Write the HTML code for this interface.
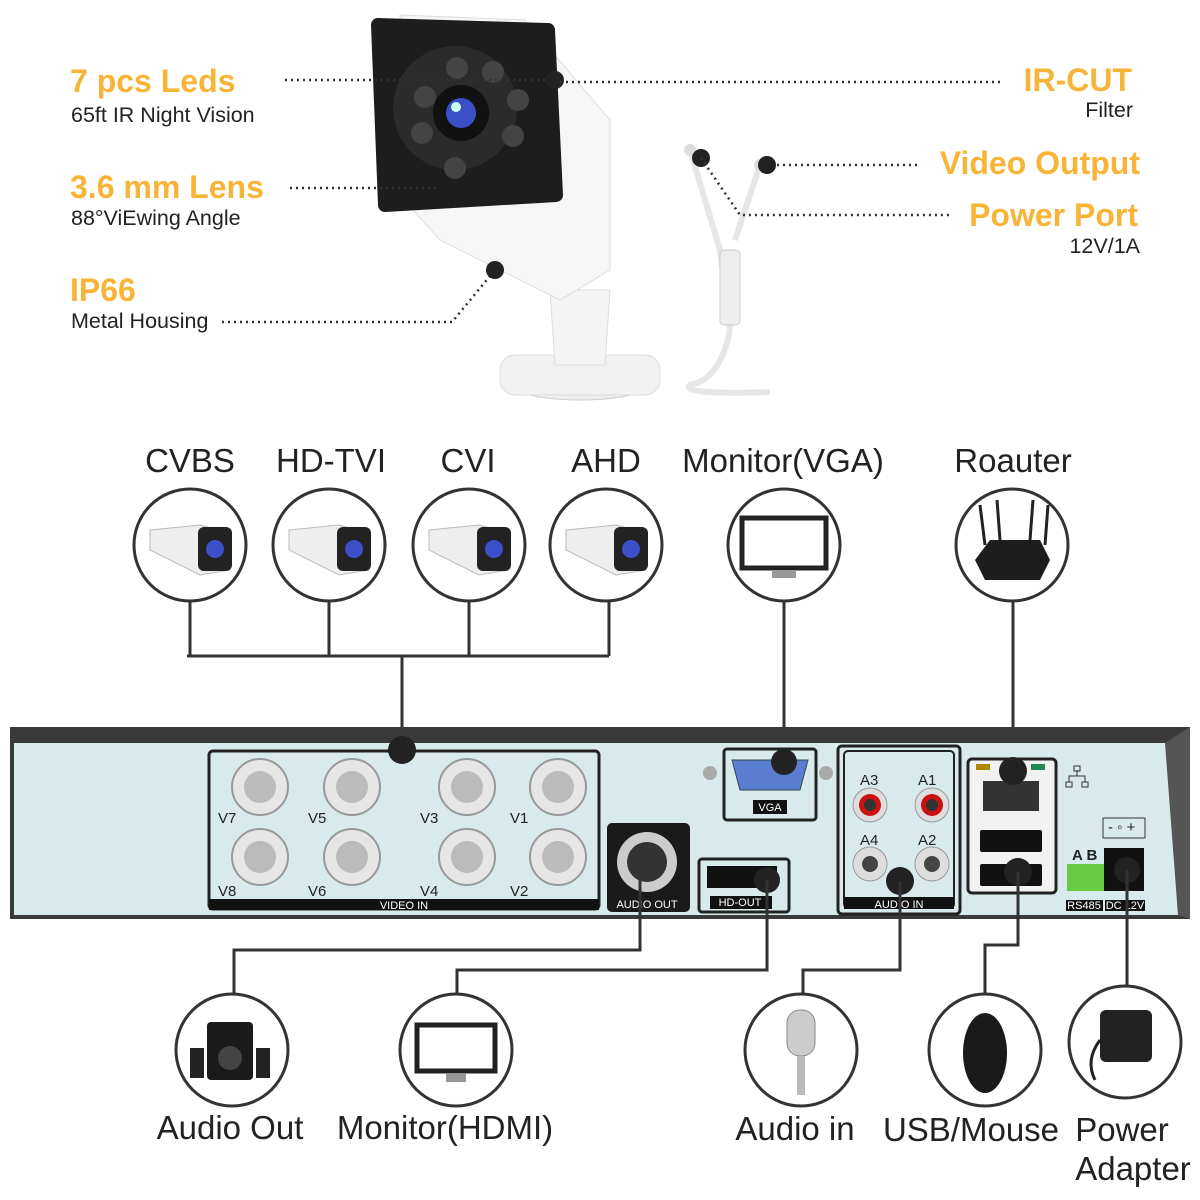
<!DOCTYPE html>
<html><head><meta charset="utf-8"><style>
html,body{margin:0;padding:0;background:#fff}
svg{display:block}
.o{font-family:"Liberation Sans",sans-serif;font-weight:bold;fill:#f7b436;font-size:32px}
.b{font-family:"Liberation Sans",sans-serif;fill:#222;font-size:21.5px}
.L{font-family:"Liberation Sans",sans-serif;fill:#222;font-size:33px}
.s{font-family:"Liberation Sans",sans-serif;fill:#222;font-size:15px}
.w{font-family:"Liberation Sans",sans-serif;fill:#fff;font-size:11px}
.dot{stroke:#333;stroke-width:2.5;stroke-dasharray:2 4;fill:none}
.ln{stroke:#333;stroke-width:3;fill:none}
.c{fill:#fff;stroke:#333;stroke-width:3}
</style></head><body>
<svg width="1200" height="1200" viewBox="0 0 1200 1200">
<g>
<ellipse cx="580" cy="378" rx="80" ry="22" fill="#eee" stroke="#ccc"/>
<rect x="500" y="355" width="160" height="40" rx="15" fill="#f1f1f1" stroke="#ddd"/>
<path d="M550 290 L610 290 L605 365 L555 365Z" fill="#f4f4f4" stroke="#ddd"/>
<path d="M400 15 L525 20 L610 120 L610 270 L560 300 L440 240 L395 190Z" fill="#f6f6f6" stroke="#ddd"/>
<path d="M378 25 L548 30 L556 195 L385 205Z" fill="#1d1d1d" stroke="#1d1d1d" stroke-width="14" stroke-linejoin="round"/>
<circle cx="455" cy="108" r="62" fill="#2b2b2b"/>
<g fill="#444"><circle cx="457" cy="68" r="11"/><circle cx="493" cy="72" r="11"/><circle cx="518" cy="100" r="11"/><circle cx="513" cy="136" r="11"/><circle cx="425" cy="97" r="11"/><circle cx="422" cy="133" r="11"/><circle cx="455" cy="168" r="11"/></g>
<circle cx="461" cy="113" r="28" fill="#111"/><circle cx="461" cy="113" r="15" fill="#3b4fc8"/><circle cx="456" cy="107" r="5" fill="#cfe"/>
<path d="M690 150 L720 250 L730 330 M760 165 L735 240 M730 330 Q720 380 690 385 Q680 395 770 392" stroke="#e6e6e6" stroke-width="6" fill="none"/>
<rect x="720" y="250" width="20" height="75" rx="4" fill="#eee" stroke="#ccc"/>
<circle cx="690" cy="150" r="6" fill="#ddd"/><circle cx="760" cy="165" r="6" fill="#ddd"/>
</g>
<text class="o" x="70" y="92">7 pcs Leds</text><text class="b" x="71" y="122">65ft IR Night Vision</text>
<path class="dot" d="M285 80 H555"/><circle cx="555" cy="80" r="9" fill="#222"/>
<text class="o" x="70" y="198">3.6 mm Lens</text><text class="b" x="71" y="225">88°ViEwing Angle</text>
<path class="dot" d="M290 188 H440"/>
<text class="o" x="70" y="301">IP66</text><text class="b" x="71" y="328">Metal Housing</text>
<path class="dot" d="M222 322 H452 L495 270"/><circle cx="495" cy="270" r="9" fill="#222"/>
<text class="o" x="1132" y="91" text-anchor="end">IR-CUT</text><text class="b" x="1133" y="117" text-anchor="end">Filter</text>
<path class="dot" d="M560 82 H1003"/>
<text class="o" x="1140" y="174" text-anchor="end">Video Output</text>
<path class="dot" d="M765 165 H918"/><circle cx="767" cy="165" r="9" fill="#222"/><circle cx="701" cy="158" r="9" fill="#222"/>
<text class="o" x="1138" y="226" text-anchor="end">Power Port</text><text class="b" x="1140" y="253" text-anchor="end">12V/1A</text>
<path class="dot" d="M701 158 L740 215 H950"/>
<g class="L" text-anchor="middle">
<text x="190" y="472">CVBS</text><text x="331" y="472">HD-TVI</text><text x="468" y="472">CVI</text><text x="606" y="472">AHD</text><text x="783" y="472">Monitor(VGA)</text><text x="1013" y="472">Roauter</text>
</g>
<g>
<circle class="c" cx="190" cy="545" r="56"/><circle class="c" cx="329" cy="545" r="56"/><circle class="c" cx="469" cy="545" r="56"/><circle class="c" cx="606" cy="545" r="56"/><circle class="c" cx="784" cy="545" r="56"/><circle class="c" cx="1012" cy="545" r="56"/>
</g>
<g>
<g transform="translate(190,545)"><path d="M-40 -15 L10 -20 L40 -12 L40 25 L10 30 L-40 5Z" fill="#eee" stroke="#bbb"/><rect x="8" y="-18" width="34" height="44" rx="6" fill="#222"/><circle cx="25" cy="4" r="9" fill="#3b4fc8"/></g>
<g transform="translate(329,545)"><path d="M-40 -15 L10 -20 L40 -12 L40 25 L10 30 L-40 5Z" fill="#eee" stroke="#bbb"/><rect x="8" y="-18" width="34" height="44" rx="6" fill="#222"/><circle cx="25" cy="4" r="9" fill="#3b4fc8"/></g>
<g transform="translate(469,545)"><path d="M-40 -15 L10 -20 L40 -12 L40 25 L10 30 L-40 5Z" fill="#eee" stroke="#bbb"/><rect x="8" y="-18" width="34" height="44" rx="6" fill="#222"/><circle cx="25" cy="4" r="9" fill="#3b4fc8"/></g>
<g transform="translate(606,545)"><path d="M-40 -15 L10 -20 L40 -12 L40 25 L10 30 L-40 5Z" fill="#eee" stroke="#bbb"/><rect x="8" y="-18" width="34" height="44" rx="6" fill="#222"/><circle cx="25" cy="4" r="9" fill="#3b4fc8"/></g>
</g>
<rect x="742" y="518" width="84" height="50" fill="#fff" stroke="#222" stroke-width="5"/><rect x="772" y="570" width="24" height="8" fill="#999"/>
<path d="M985 545 L980 505 M1000 540 L997 500 M1030 540 L1033 500 M1045 545 L1048 505" stroke="#222" stroke-width="3"/>
<path d="M975 560 L990 540 L1040 540 L1050 560 L1040 580 L985 580Z" fill="#1d1d1d"/>
<path class="ln" d="M190 601 V656 M329 601 V656 M469 601 V656 M609 601 V656 M187 656 H609 M402 656 V750 M784 601 V762 M1013 601 V770"/>
<rect x="10" y="727" width="1180" height="192" fill="#3a3a3a"/>
<rect x="14" y="743" width="1164" height="172" fill="#d9eaec"/>
<path d="M1165 743 L1190 727 L1190 919 L1178 915Z" fill="#555"/>
<rect x="209" y="751" width="390" height="158" rx="4" fill="#d9eaec" stroke="#222" stroke-width="3"/>
<rect x="209" y="899" width="390" height="11" fill="#111"/><text class="w" x="404" y="909" text-anchor="middle">VIDEO IN</text>
<g fill="#e6e6e6" stroke="#999" stroke-width="2">
<circle cx="260" cy="787" r="28"/><circle cx="352" cy="787" r="28"/><circle cx="467" cy="787" r="28"/><circle cx="558" cy="787" r="28"/>
<circle cx="260" cy="857" r="28"/><circle cx="352" cy="857" r="28"/><circle cx="467" cy="857" r="28"/><circle cx="558" cy="857" r="28"/>
</g>
<g fill="#bbb"><circle cx="260" cy="787" r="16"/><circle cx="352" cy="787" r="16"/><circle cx="467" cy="787" r="16"/><circle cx="558" cy="787" r="16"/><circle cx="260" cy="857" r="16"/><circle cx="352" cy="857" r="16"/><circle cx="467" cy="857" r="16"/><circle cx="558" cy="857" r="16"/></g>
<g class="s"><text x="218" y="823">V7</text><text x="308" y="823">V5</text><text x="420" y="823">V3</text><text x="510" y="823">V1</text><text x="218" y="896">V8</text><text x="308" y="896">V6</text><text x="420" y="896">V4</text><text x="510" y="896">V2</text></g>
<circle cx="402" cy="750" r="14" fill="#222"/>
<rect x="607" y="823" width="83" height="89" rx="5" fill="#1a1a1a"/><circle cx="647" cy="862" r="30" fill="#ccc"/><circle cx="647" cy="862" r="20" fill="#333"/><text class="w" x="647" y="908" text-anchor="middle" font-size="9">AUDIO OUT</text>
<rect x="699" y="859" width="90" height="53" rx="3" fill="#d9eaec" stroke="#222" stroke-width="3"/><rect x="707" y="866" width="70" height="22" fill="#111"/><rect x="710" y="896" width="62" height="13" fill="#111"/><text class="w" x="740" y="906" text-anchor="middle">HD-OUT</text>
<circle cx="767" cy="880" r="13" fill="#222"/>
<rect x="724" y="749" width="92" height="71" rx="3" fill="#d9eaec" stroke="#222" stroke-width="3"/><path d="M732 760 H808 L800 790 H740Z" fill="#5b7fd0" stroke="#345"/><rect x="753" y="800" width="34" height="14" fill="#111"/><text class="w" x="770" y="811" text-anchor="middle">VGA</text>
<circle cx="710" cy="773" r="7" fill="#aaa"/><circle cx="826" cy="773" r="7" fill="#aaa"/><circle cx="784" cy="762" r="13" fill="#222"/>
<rect x="838" y="746" width="122" height="168" rx="4" fill="none" stroke="#222" stroke-width="3"/><rect x="844" y="751" width="110" height="157" rx="4" fill="none" stroke="#222" stroke-width="2"/>
<rect x="844" y="897" width="110" height="12" fill="#111"/><text class="w" x="899" y="908" text-anchor="middle" font-size="12">AUDIO IN</text>
<g class="s" font-size="16"><text x="860" y="785">A3</text><text x="918" y="785">A1</text><text x="860" y="845">A4</text><text x="918" y="845">A2</text></g>
<g><circle cx="870" cy="805" r="17" fill="#ddd" stroke="#999"/><circle cx="870" cy="805" r="11" fill="#c11"/><circle cx="870" cy="805" r="6" fill="#333"/>
<circle cx="932" cy="805" r="17" fill="#ddd" stroke="#999"/><circle cx="932" cy="805" r="11" fill="#c11"/><circle cx="932" cy="805" r="6" fill="#333"/>
<circle cx="870" cy="864" r="17" fill="#ddd" stroke="#999"/><circle cx="870" cy="864" r="8" fill="#444"/>
<circle cx="932" cy="864" r="17" fill="#ddd" stroke="#999"/><circle cx="932" cy="864" r="8" fill="#444"/></g>
<circle cx="900" cy="881" r="14" fill="#222"/>
<rect x="968" y="759" width="88" height="134" rx="4" fill="#f2f2f2" stroke="#222" stroke-width="3"/>
<rect x="983" y="781" width="56" height="30" fill="#333"/><rect x="976" y="764" width="14" height="6" fill="#a80"/><rect x="1031" y="764" width="14" height="6" fill="#285"/>
<circle cx="1013" cy="771" r="14" fill="#222"/>
<rect x="980" y="830" width="62" height="22" rx="2" fill="#111"/><rect x="980" y="864" width="62" height="22" rx="2" fill="#111"/>
<circle cx="1018" cy="872" r="14" fill="#222"/>
<path d="M1077 770 v6 h-8 v6 M1077 776 h8 v6" stroke="#333" fill="none"/><rect x="1074" y="766" width="6" height="5" fill="none" stroke="#333"/><rect x="1066" y="782" width="6" height="5" fill="none" stroke="#333"/><rect x="1082" y="782" width="6" height="5" fill="none" stroke="#333"/>
<rect x="1103" y="818" width="42" height="20" fill="none" stroke="#333"/><text class="s" x="1108" y="832" font-size="12">- ◦ +</text>
<rect x="1104" y="848" width="40" height="43" fill="#111"/>
<rect x="1067" y="864" width="37" height="27" fill="#6c4"/>
<text class="s" x="1072" y="860" font-size="11" font-weight="bold">A B</text>
<rect x="1066" y="900" width="37" height="11" fill="#111"/><text class="w" x="1084" y="909" text-anchor="middle" font-size="9">RS485</text>
<rect x="1105" y="900" width="40" height="11" fill="#111"/><text class="w" x="1125" y="909" text-anchor="middle" font-size="9">DC 12V</text>
<circle cx="1127" cy="870" r="13" fill="#222"/>
<path class="ln" d="M640 870 V950 H234 V995 M767 880 V970 H457 V995 M900 881 V970 H803 V995 M1018 872 V945 H985 V995 M1127 870 V985"/>
<circle class="c" cx="232" cy="1050" r="56"/><circle class="c" cx="456" cy="1050" r="56"/><circle class="c" cx="801" cy="1050" r="56"/><circle class="c" cx="985" cy="1050" r="56"/><circle class="c" cx="1125" cy="1042" r="56"/>
<rect x="207" y="1022" width="46" height="58" rx="4" fill="#1a1a1a"/><rect x="190" y="1048" width="14" height="30" fill="#222"/><rect x="256" y="1048" width="14" height="30" fill="#222"/><circle cx="230" cy="1058" r="12" fill="#444"/>
<rect x="417" y="1025" width="78" height="46" fill="#fff" stroke="#222" stroke-width="5"/><rect x="446" y="1074" width="20" height="8" fill="#999"/>
<rect x="787" y="1010" width="28" height="46" rx="13" fill="#ccc" stroke="#888"/><path d="M801 1056 V1095" stroke="#bbb" stroke-width="8"/>
<ellipse cx="985" cy="1053" rx="22" ry="40" fill="#1a1a1a"/>
<rect x="1100" y="1010" width="52" height="52" rx="6" fill="#222"/><path d="M1100 1040 Q1085 1060 1095 1080" stroke="#222" stroke-width="3" fill="none"/>
<g class="L" text-anchor="middle" font-size="34">
<text x="230" y="1139">Audio Out</text><text x="445" y="1139">Monitor(HDMI)</text><text x="795" y="1140">Audio in</text><text x="971" y="1141">USB/Mouse</text><text x="1122" y="1141">Power</text><text x="1133" y="1180">Adapter</text>
</g>
</svg>
</body></html>
